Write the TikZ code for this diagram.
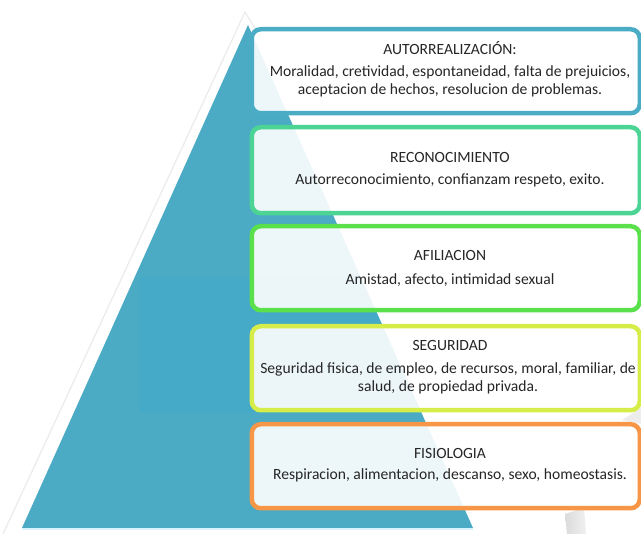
\documentclass[tikz,border=0pt]{standalone}
\usepackage{fontspec}
\setmainfont{Carlito}
\begin{document}
\begin{tikzpicture}[x=1pt,y=-1pt,
  level/.style={draw=#1, line width=4.5pt, rounded corners=9pt,
    fill=white, fill opacity=0.9, text opacity=1,
    minimum width=388pt, anchor=north west, inner sep=0pt},
  ttl/.style={font=\fontsize{15.6}{18}\selectfont, text=black!85, inner sep=0pt},
  txt/.style={font=\fontsize{15.6}{18}\selectfont, text=black!85, align=center, inner sep=0pt}]
\definecolor{pyr}{HTML}{4BABC4}
\definecolor{pyrdeep}{HTML}{45A9C8}
\definecolor{c1}{HTML}{4BACC6}
\definecolor{c2}{HTML}{4CD494}
\definecolor{c3}{HTML}{5AE04A}
\definecolor{c4}{HTML}{D6EC48}
\definecolor{c5}{HTML}{F79646}
\useasboundingbox (0,0) rectangle (641,534);
\fill[white] (0,0) rectangle (641,534);

% pale outline of the pyramid
\draw[black!8, line width=1.2pt] (3,534) -- (245,12) -- (262,40);
\fill[white] (14,531) -- (245,16) -- (258,42) -- (22,531) -- cycle;

% pyramid body
\fill[pyr] (22,528) -- (248,25) -- (473,528) -- cycle;
\begin{scope}
  \clip (22,528) -- (248,25) -- (473,528) -- cycle;
  \fill[pyrdeep] (140,277) rectangle (473,412);
\end{scope}
\draw[cyan!15!white, line width=1.2pt] (22,529) -- (473,529);

% faint reflections at the lower right
\shade[left color=black!14, right color=black!6] (565,514) -- (584,508) -- (586,534) -- (567,534) -- cycle;
\fill[black!7] (622,420) -- (641,408) -- (641,424) -- cycle;

% levels of the pyramid
\node[level=c1, minimum height=84pt] (l1) at (249.5,27) {};
\node[level=c2, minimum height=86pt] (l2) at (249.5,125) {};
\node[level=c3, minimum height=84pt] (l3) at (249.5,224) {};
\node[level=c4, minimum height=84pt] (l4) at (249.5,324) {};
\node[level=c5, minimum height=84pt] (l5) at (249.5,422) {};

\node[ttl] (t1) at (450,48) {AUTORREALIZACIÓN:};
\node[txt] (b1) at (450,81) {Moralidad, cretividad, espontaneidad, falta de prejuicios,\\aceptacion de hechos, resolucion de problemas.};

\node[ttl] (t2) at (450,157) {RECONOCIMIENTO};
\node[txt] (b2) at (450,180) {Autorreconocimiento, confianzam respeto, exito.};

\node[ttl] (t3) at (450,255) {AFILIACION};
\node[txt] (b3) at (450,280) {Amistad, afecto, intimidad sexual};

\node[ttl] (t4) at (450,345) {SEGURIDAD};
\node[txt] (b4) at (448,378.5) {Seguridad fisica, de empleo, de recursos, moral, familiar, de\\salud, de propiedad privada.};

\node[ttl] (t5) at (450,453) {FISIOLOGIA};
\node[txt] (b5) at (450,475) {Respiracion, alimentacion, descanso, sexo, homeostasis.};
\end{tikzpicture}
\end{document}
